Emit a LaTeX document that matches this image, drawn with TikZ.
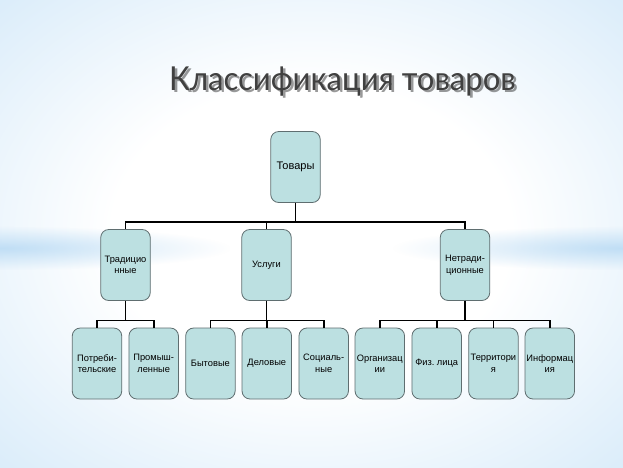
\documentclass[tikz,border=0pt]{standalone}
\usepackage{fontspec}
\setmainfont{Liberation Sans}
\newfontfamily\titlefont{Lato}
\usetikzlibrary{positioning,fadings}
\definecolor{bgA}{RGB}{214,234,249}
\definecolor{bgB}{RGB}{184,218,244}
\definecolor{boxfill}{RGB}{188,224,225}
\definecolor{boxdraw}{RGB}{95,110,112}
\definecolor{titlecol}{RGB}{64,64,64}
\pgfdeclareradialshading{bgrad}{\pgfpoint{0bp}{0bp}}{color(0bp)=(white); color(16bp)=(white); color(38bp)=(bgA); color(55bp)=(bgB); color(75bp)=(bgB)}
\tikzfading[name=softblob, inner color=transparent!0, outer color=transparent!100]
\tikzset{
  boxnode/.style={draw=boxdraw, line width=0.8pt, fill=boxfill, rounded corners=8pt,
    minimum width=49.5pt, minimum height=71pt, inner sep=1pt, align=center,
    font=\fontsize{9.3}{11.5}\selectfont},
  topnode/.style={boxnode, font=\fontsize{11}{12}\selectfont},
  conn/.style={line width=1.6pt, black},
  titlestyle/.style={anchor=base west, inner sep=0, font=\titlefont\fontsize{33}{36}\selectfont}
}
\begin{document}
\begin{tikzpicture}[x=1pt,y=-1pt]
\useasboundingbox (0,0) rectangle (623,467);
\shade[shading=bgrad] (0,0) rectangle (623,467);
% soft horizontal streaks
\fill[bgB, path fading=softblob, opacity=0.85] (-230,226) rectangle (230,270);
\fill[bgB, path fading=softblob, opacity=0.85] (393,226) rectangle (853,270);
% title
\node[titlestyle, text=black, opacity=0.4] (titleshadow) at (171.5,92.5) {\scalebox{0.94}[1]{Классификация товаров}};
\node[titlestyle, text=titlecol] (title) at (169,90) {\scalebox{0.94}[1]{Классификация товаров}};
% nodes
\node[topnode] (top) at (295.5,167) {Товары};
\node[boxnode] (trad) at (125.5,265) {Традицио\\нные};
\node[boxnode] (usl) at (266.5,265) {Услуги};
\node[boxnode] (netr) at (465,265) {Нетради-\\ционные};
\node[boxnode] (potr) at (97,363.5) {Потреби-\\тельские};
\node[boxnode] (prom) at (153.7,363.5) {Промыш-\\ленные};
\node[boxnode] (byt) at (210.4,363.5) {Бытовые};
\node[boxnode] (del) at (266.8,363.5) {Деловые};
\node[boxnode] (soc) at (323.7,363.5) {Социаль-\\ные};
\node[boxnode] (org) at (379.8,363.5) {Организац\\ии};
\node[boxnode] (fiz) at (436.7,363.5) {Физ.\ лица};
\node[boxnode] (terr) at (493.4,363.5) {Территори\\я};
\node[boxnode] (inf) at (549.8,363.5) {Информац\\ия};
% connectors
\foreach \c in {trad,usl,netr} \draw[conn] (top.south) -- +(0,19) -| (\c.north);
\foreach \c in {potr,prom} \draw[conn] (trad.south) -- +(0,19.5) -| (\c.north);
\foreach \c in {byt,del,soc} \draw[conn] (usl.south) -- +(0,19.5) -| (\c.north);
\foreach \c in {org,fiz,terr,inf} \draw[conn] (netr.south) -- +(0,19.5) -| (\c.north);
\end{tikzpicture}
\end{document}
